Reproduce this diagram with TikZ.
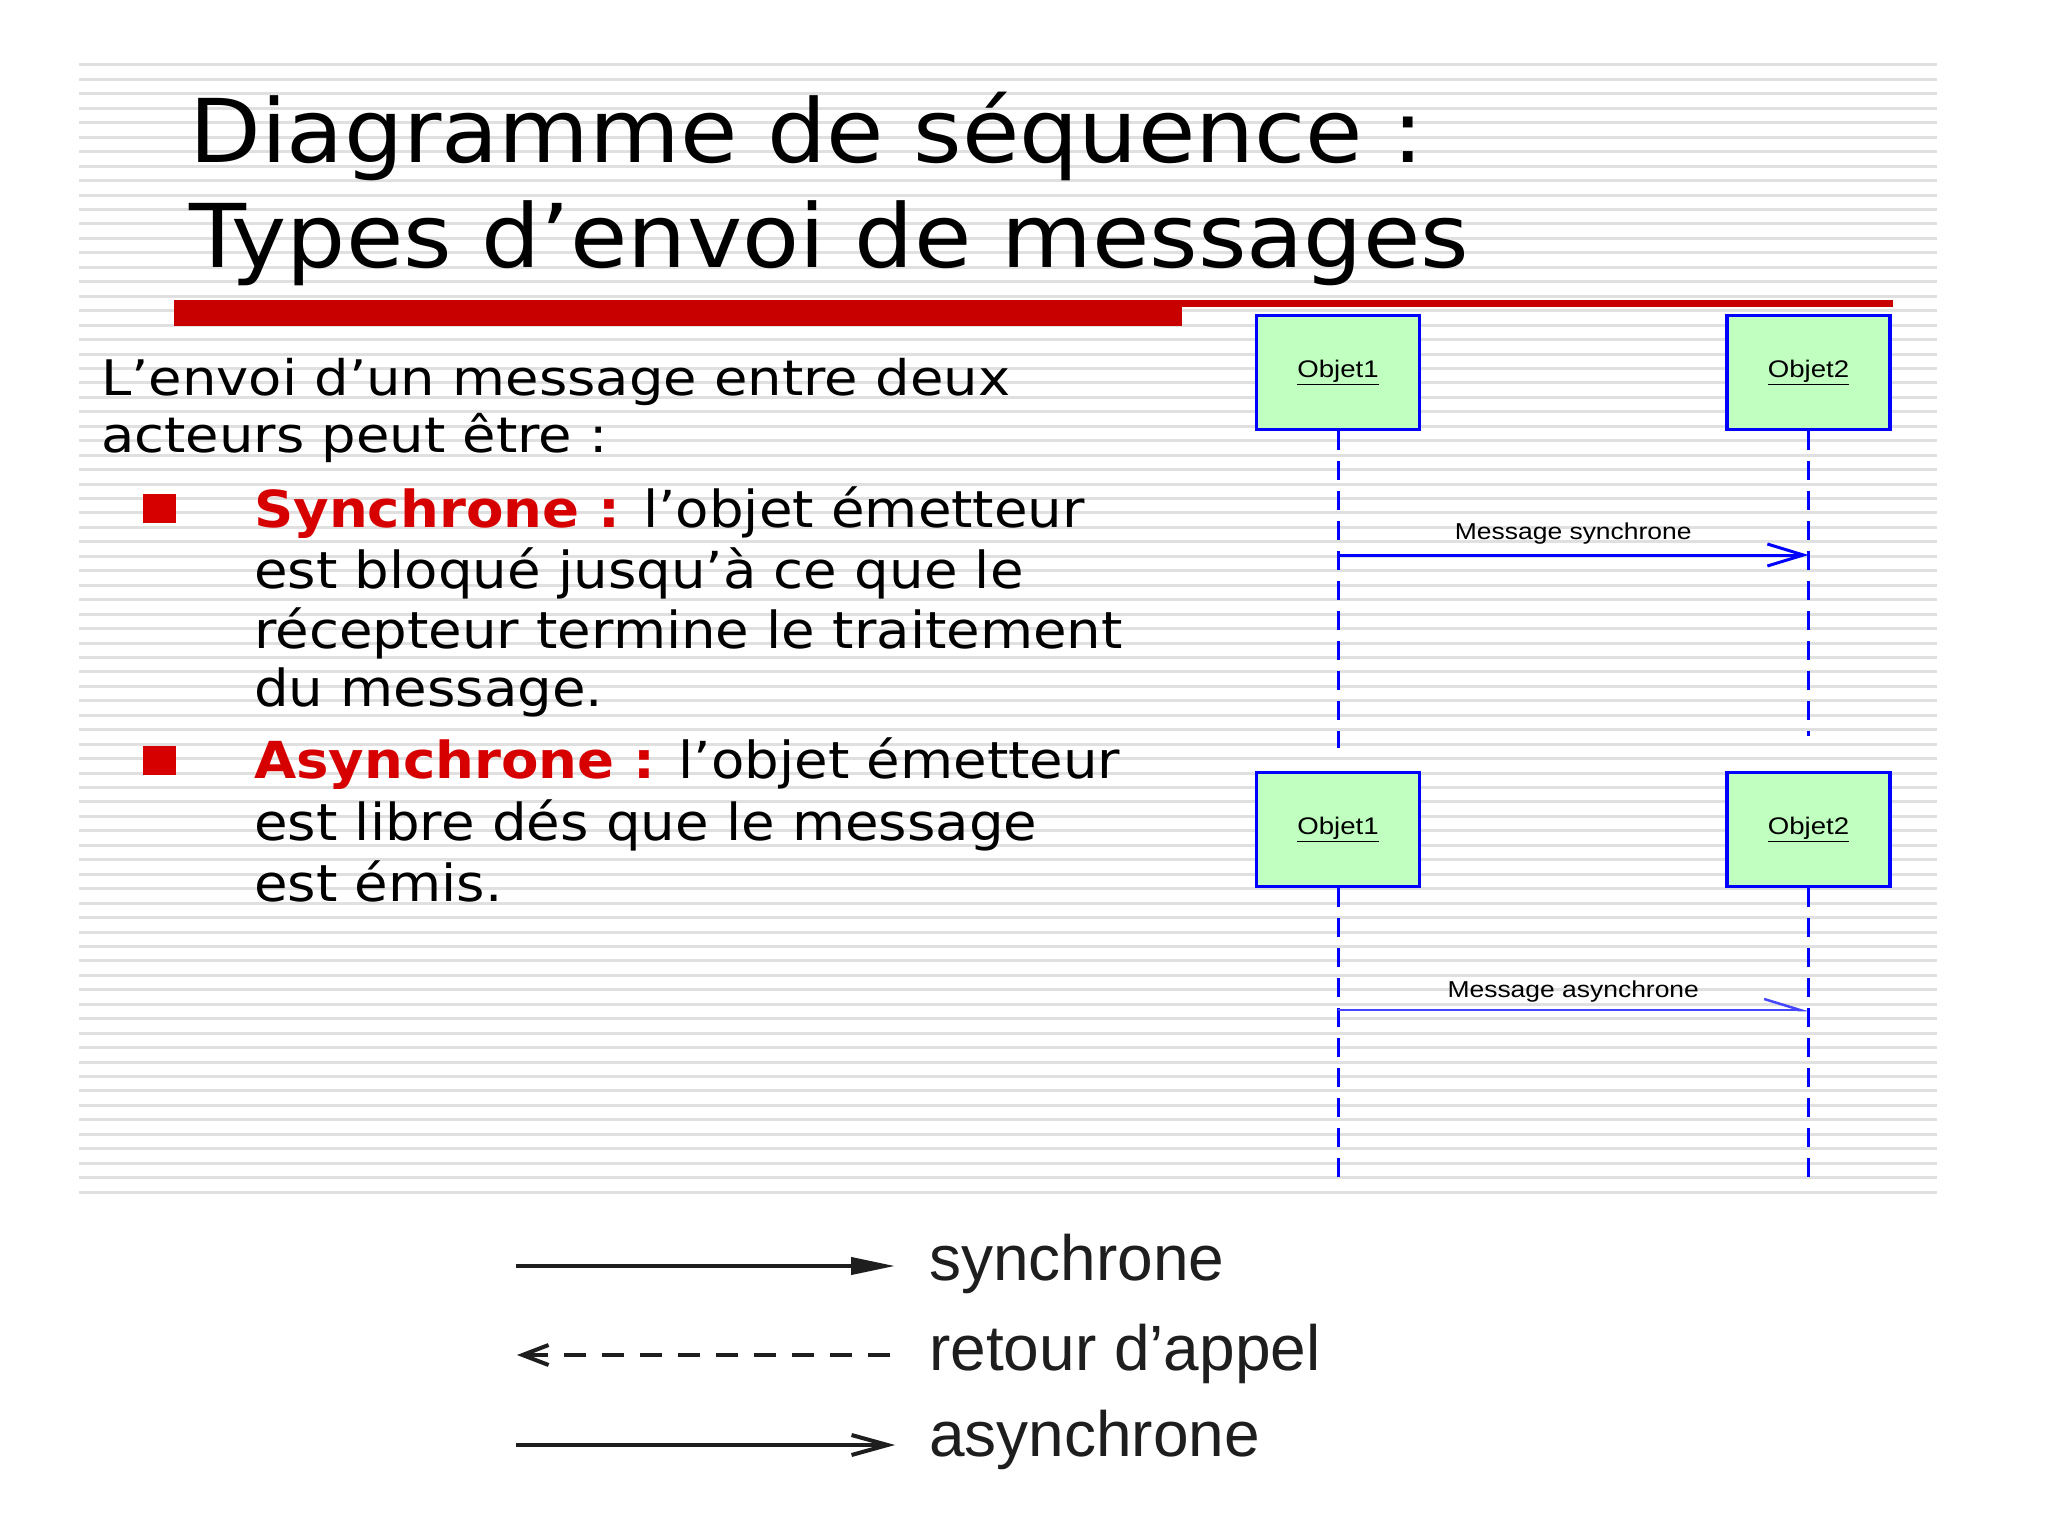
\documentclass[tikz,border=0pt]{standalone}
\usepackage{fontspec}
\usetikzlibrary{arrows.meta}
\newfontfamily\titlefont[FakeStretch=1.06]{DejaVu Sans}
\newfontfamily\parafont[FakeStretch=1.11]{DejaVu Sans}
\newfontfamily\bodyfont[FakeStretch=1.07]{DejaVu Sans}
\newfontfamily\umlfont[FakeStretch=1.15]{Liberation Sans}
\newfontfamily\legfont{Liberation Sans}
\definecolor{barred}{RGB}{200,0,0}
\definecolor{txtred}{RGB}{215,0,0}
\definecolor{objfill}{RGB}{192,255,192}
\definecolor{stripe}{RGB}{224,224,224}
\definecolor{umlblue}{RGB}{0,0,255}
\definecolor{asyncblue}{RGB}{70,70,255}
\definecolor{legcol}{RGB}{30,30,30}
\begin{document}
\begin{tikzpicture}[x=1pt,y=-1pt,
  titletext/.style={inner sep=0pt, anchor=base west, font=\titlefont\fontsize{88}{100}\selectfont},
  paratext/.style={inner sep=0pt, anchor=base west, font=\parafont\fontsize{49}{58}\selectfont},
  bultext/.style={inner sep=0pt, anchor=base west, font=\bodyfont\fontsize{51}{61}\selectfont},
  bulsq/.style={fill=txtred, draw=none, inner sep=0pt, minimum width=33pt, minimum height=29pt},
  objbox/.style={draw=umlblue, line width=3.5pt, fill=objfill, minimum width=163pt, minimum height=114pt, inner sep=0pt, font=\umlfont\fontsize{24}{28}\selectfont},
  lifeline/.style={draw=umlblue, line width=3pt, dash pattern=on 19pt off 11pt},
  syncmsg/.style={draw=umlblue, line width=3pt, -{Straight Barb[length=36pt,width=22pt]}},
  asyncmsg/.style={draw=asyncblue, line width=2.5pt, -{Straight Barb[left,length=36pt,width=22pt]}},
  msglabel/.style={inner sep=0pt, anchor=base, font=\umlfont\fontsize{23}{27}\selectfont},
  legline/.style={draw=legcol, line width=4pt},
  legtext/.style={inner sep=0pt, anchor=base west, text=legcol, font=\legfont\fontsize{64}{74}\selectfont}
]
\useasboundingbox (0,0) rectangle (2048,1536);
\fill[white] (0,0) rectangle (2048,1536);
% striped background
\foreach \k in {0,...,78} {
  \draw[stripe, line width=3pt] (79,65+14.45*\k) -- (1937,65+14.45*\k);
}
% title
\node[titletext] (title1) at (189,163) {Diagramme de séquence :};
\node[titletext] (title2) at (189,267) {Types d’envoi de messages};
% red bar
\fill[barred] (174,300) rectangle (1182,326);
\fill[barred] (1182,300) rectangle (1893,307);
% left text
\node[paratext] (p1) at (101,395) {L’envoi d’un message entre deux};
\node[paratext] (p2) at (101,452) {acteurs peut être :};
\node[bulsq] (b1) at (159.5,508.5) {};
\node[bultext] (s1) at (254,527) {\textbf{\color{txtred}Synchrone :} l’objet émetteur};
\node[bultext] (s2) at (254,588) {est bloqué jusqu’à ce que le};
\node[bultext] (s3) at (254,648) {récepteur termine le traitement};
\node[bultext] (s4) at (254,706) {du message.};
\node[bulsq] (b2) at (159.5,760.5) {};
\node[bultext] (a1) at (254,778) {\textbf{\color{txtred}Asynchrone :} l’objet émetteur};
\node[bultext] (a2) at (254,840) {est libre dés que le message};
\node[bultext] (a3) at (254,901) {est émis.};
% synchronous sequence diagram
\node[objbox] (oa1) at (1338,372.5) {\underline{Objet1}};
\node[objbox] (oa2) at (1808.5,372.5) {\underline{Objet2}};
\coordinate (ea1) at (1338,748);
\coordinate (ea2) at (1808.5,736);
\draw[lifeline] (oa1.south) -- (ea1);
\draw[lifeline] (oa2.south) -- (ea2);
\coordinate (ma1) at (1338,555);
\coordinate (ma2) at (1808.5,555);
\draw[syncmsg] (ma1) -- (ma2) node[msglabel, pos=0.5, yshift=16pt] {Message synchrone};
% asynchronous sequence diagram
\node[objbox] (ob1) at (1338,829.5) {\underline{Objet1}};
\node[objbox] (ob2) at (1808.5,829.5) {\underline{Objet2}};
\coordinate (eb1) at (1338,1188);
\coordinate (eb2) at (1808.5,1188);
\draw[lifeline] (ob1.south) -- (eb1);
\draw[lifeline] (ob2.south) -- (eb2);
\coordinate (mb1) at (1338,1010);
\coordinate (mb2) at (1808.5,1010);
\draw[asyncmsg] (mb1) -- (mb2) node[msglabel, pos=0.5, yshift=13pt] {Message asynchrone};
% legend
\coordinate (ls1) at (516,1266);
\coordinate (ls2) at (895,1266);
\draw[legline, -{Triangle[length=44pt,width=17pt]}] (ls1) -- (ls2);
\node[legtext] (lt1) at (929,1280) {synchrone};
\coordinate (ld1) at (517,1355);
\coordinate (ld2) at (890,1355);
\draw[legline, dash pattern=on 22pt off 16pt, -{Straight Barb[length=26pt,width=20pt]}] (ld2) -- (ld1);
\node[legtext] (lt2) at (929,1370) {retour d’appel};
\coordinate (la1) at (516,1445);
\coordinate (la2) at (895,1445);
\draw[legline, -{Straight Barb[length=36pt,width=20pt]}] (la1) -- (la2);
\node[legtext] (lt3) at (929,1456) {asynchrone};
\end{tikzpicture}
\end{document}
